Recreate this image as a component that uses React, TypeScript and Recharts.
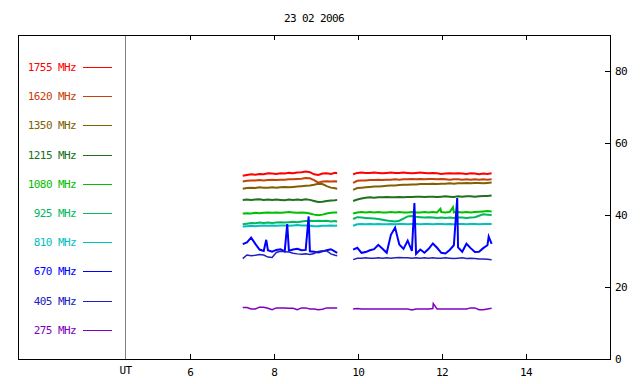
import { LineChart, Line, XAxis, YAxis, Legend } from "recharts";

const MONO = "'DejaVu Sans Mono', monospace";

// UT hours; the 9.7 entry is the data gap between the two recordings
const times = [
  7.25, 7.35, 7.45, 7.55, 7.65, 7.75, 7.85, 7.95, 8.05, 8.15,
  8.25, 8.35, 8.45, 8.55, 8.65, 8.75, 8.85, 8.95, 9.05, 9.15,
  9.25, 9.35, 9.45, 9.5,
  9.7,
  9.88, 9.98, 10.08, 10.18, 10.28, 10.38, 10.48, 10.58, 10.68, 10.78,
  10.88, 10.98, 11.08, 11.18, 11.28, 11.38, 11.48, 11.58, 11.68, 11.78,
  11.88, 11.98, 12.08, 12.18, 12.28, 12.38, 12.48, 12.58, 12.68, 12.78,
  12.88, 12.98, 13.08, 13.18,
];

const channels = ["1755 MHz", "1620 MHz", "1350 MHz", "1215 MHz", "1080 MHz", "925 MHz", "810 MHz", "670 MHz", "405 MHz", "275 MHz"];
const colors = ["#ff0000", "#c8400a", "#806000", "#207020", "#00c000", "#00b860", "#00c0c0", "#0000ff", "#2020c0", "#8000c0"];

const f1755 = [
  50.9, 51.1, 51.3, 51.2, 51.4, 51.3, 51.6, 51.5, 51.4, 51.6,
  51.5, 51.7, 51.6, 51.8, 51.9, 52.1, 51.9, 51.3, 51.1, 51.5,
  51.6, 51.4, 51.7, 51.6,
  null,
  51.3, 51.7, 51.8, 51.7, 51.7, 51.8, 51.7, 51.6, 51.7, 51.8,
  51.7, 51.7, 51.8, 51.7, 51.6, 51.7, 51.8, 51.7, 51.6, 51.7,
  51.6, 51.4, 51.5, 51.6, 51.5, 51.6, 51.5, 51.4, 51.6, 51.5,
  51.3, 51.5, 51.4, 51.6,
];
const f1620 = [
  49.3, 49.5, 49.6, 49.6, 49.7, 49.6, 49.7, 49.8, 49.7, 49.8,
  49.8, 49.9, 49.9, 50.0, 50.1, 50.3, 50.2, 49.7, 49.0, 49.3,
  49.4, 49.3, 49.4, 49.3,
  null,
  48.9, 49.5, 49.6, 49.6, 49.7, 49.7, 49.8, 49.7, 49.8, 49.8,
  49.9, 49.8, 49.9, 49.9, 50.0, 49.9, 50.0, 49.9, 50.0, 50.0,
  49.9, 50.0, 49.9, 49.8, 49.9, 49.9, 49.8, 49.9, 49.8, 49.9,
  49.8, 49.9, 49.8, 49.9,
];
const f1350 = [
  47.3, 47.5, 47.6, 47.5, 47.7, 47.6, 47.6, 47.7, 47.6, 47.7,
  47.8, 47.7, 47.8, 47.9, 48.0, 48.1, 48.2, 48.4, 48.7, 48.6,
  48.0, 47.6, 47.4, 47.3,
  null,
  47.0, 47.5, 47.6, 47.7, 47.8, 47.9, 47.9, 48.0, 48.1, 48.2,
  48.2, 48.3, 48.4, 48.4, 48.5, 48.5, 48.6, 48.6, 48.6, 48.7,
  48.6, 48.7, 48.7, 48.8, 48.7, 48.8, 48.8, 48.9, 48.8, 48.9,
  48.9, 48.8, 48.9, 49.0,
];
const f1215 = [
  44.2, 44.3, 44.2, 44.3, 44.4, 44.2, 44.3, 44.2, 44.3, 44.2,
  44.1, 44.3, 44.2, 44.3, 44.2, 44.4, 44.2, 43.9, 43.6, 43.7,
  43.9, 44.0, 44.1, 44.2,
  null,
  43.9, 44.3, 44.6, 44.8, 44.9, 44.8, 44.9, 44.9, 45.0, 44.9,
  44.9, 45.0, 44.9, 45.0, 45.0, 45.1, 45.1, 45.0, 45.1, 45.1,
  45.0, 45.1, 45.2, 45.1, 45.0, 45.2, 45.1, 45.2, 45.2, 45.1,
  45.2, 45.3, 45.3, 45.4,
];
const f1080 = [
  40.4, 40.5, 40.4, 40.6, 40.5, 40.6, 40.7, 40.6, 40.7, 40.6,
  40.7, 40.8, 40.7, 40.6, 40.7, 40.6, 40.4, 40.1, 39.9, 40.1,
  40.4, 40.6, 40.7, 40.7,
  null,
  40.4, 40.7, 40.8, 40.7, 40.8, 40.7, 40.8, 40.7, 40.7, 40.8,
  40.7, 40.8, 40.7, 40.7, 40.8, 40.7, 40.7, 40.8, 40.7, 40.8,
  40.7, 40.8, 40.7, 40.8, 40.7, 40.8, 40.7, 40.8, 40.7, 40.8,
  40.9, 41.0, 41.1, 41.0,
];
const f925 = [
  37.4, 37.6, 37.8, 37.7, 37.9, 37.8, 37.9, 37.8, 37.9, 38.0,
  37.9, 38.0, 38.1, 38.0, 38.2, 38.3, 38.4, 38.3, 38.4, 38.3,
  38.4, 38.2, 38.3, 38.2,
  null,
  38.9, 39.4, 39.3, 39.2, 39.1, 39.0, 38.9, 38.7, 38.5, 38.3,
  38.2, 38.4, 39.0, 39.6, 39.7, 39.5, 39.4, 39.3, 39.4, 39.3,
  39.2, 39.3, 39.2, 39.3, 39.2, 39.3, 39.3, 39.2, 39.3, 39.4,
  39.8, 40.2, 40.1, 40.0,
];
const f810 = [
  36.8, 36.9, 37.0, 36.9, 37.0, 37.1, 37.0, 37.1, 37.0, 37.1,
  37.1, 37.0, 37.1, 37.2, 37.1, 37.1, 37.0, 36.9, 36.9, 37.0,
  37.0, 37.1, 37.0, 37.1,
  null,
  37.0, 37.4, 37.5, 37.4, 37.5, 37.4, 37.5, 37.4, 37.4, 37.5,
  37.4, 37.5, 37.5, 37.4, 37.5, 37.5, 37.4, 37.5, 37.5, 37.4,
  37.5, 37.5, 37.4, 37.5, 37.4, 37.5, 37.5, 37.4, 37.5, 37.5,
  37.4, 37.5, 37.5, 37.5,
];
const f670 = [
  31.9, 32.4, 33.7, 32.0, 30.4, 30.0, 30.2, 29.8, 30.3, 30.5,
  29.9, 30.1, 30.4, 30.6, 30.2, 30.3, 29.9, 29.8, 29.6, 29.9,
  30.2, 30.5, 29.8, 29.5,
  null,
  30.4, 30.9, 29.5, 29.7, 30.2, 30.5, 31.7, 30.6, 29.5, 34.5,
  36.5, 31.8, 30.6, 32.9, 30.0, 29.2, 30.4, 29.5, 30.6, 32.1,
  30.9, 29.5, 29.3, 30.3, 31.6, 31.0, 29.8, 32.0, 30.8, 29.7,
  29.8, 30.8, 31.6, 32.0,
];
const f405 = [
  27.9, 28.9, 28.7, 28.8, 29.0, 28.9, 28.3, 28.2, 29.6, 29.9,
  29.8, 29.7, 29.4, 29.2, 29.1, 29.2, 29.0, 29.3, 29.9, 30.1,
  30.0, 29.2, 28.8, 28.7,
  null,
  27.6, 28.0, 28.0, 28.1, 28.0, 28.0, 28.1, 28.0, 28.1, 28.0,
  28.1, 28.2, 28.1, 28.1, 28.0, 28.1, 28.0, 28.1, 28.0, 28.1,
  28.0, 28.0, 28.1, 28.0, 27.9, 28.0, 28.1, 27.9, 28.0, 27.9,
  27.8, 27.8, 27.7, 27.6,
];
const f275 = [
  14.3, 14.3, 13.9, 13.9, 14.4, 14.4, 14.1, 13.7, 14.2, 14.2,
  14.2, 14.1, 14.1, 13.7, 14.2, 14.2, 13.9, 13.9, 13.7, 13.8,
  14.2, 14.2, 14.2, 14.2,
  null,
  13.9, 14.0, 13.9, 13.9, 13.9, 13.9, 13.9, 13.9, 13.9, 13.9,
  13.9, 13.9, 13.9, 13.9, 13.6, 13.9, 13.9, 13.9, 13.9, 14.0,
  13.9, 13.9, 13.9, 13.9, 13.9, 13.9, 13.9, 13.9, 14.2, 14.2,
  13.7, 13.7, 13.9, 14.1,
];

// short bursts, [UT, value]
const spikes670 = [[7.81, 33.1], [8.31, 37.5], [8.82, 39.6], [11.34, 43.3], [12.36, 44.7], [13.11, 34.0]];
const spikes1080 = [[11.96, 41.7], [12.26, 42.2]];
const spikes275 = [[11.79, 15.4]];

const xTicks = [4.457, 6, 8, 10, 12, 14];
const yTicks = [0, 20, 40, 60, 80];

function build(values: (number | null)[], spikes: number[][] = []) {
  const rows = times.map((t, i) => ({ t, v: values[i] }));
  for (const [t, v] of spikes) rows.push({ t, v });
  return rows.sort((a, b) => a.t - b.t);
}

const series = [
  build(f1755), build(f1620), build(f1350), build(f1215), build(f1080, spikes1080),
  build(f925), build(f810), build(f670, spikes670), build(f405), build(f275, spikes275),
];

const txt = { fontFamily: MONO, fontSize: 11, letterSpacing: -0.6 };

// tick marks point into the plot; drawn as 1px rects so they stay crisp
function BottomTick({ x, y, payload }: any) {
  if (payload.value < 5) {
    return <text x={x} y={y + 15} textAnchor="middle" fill="#000" stroke="none" style={txt}>UT</text>;
  }
  return (
    <g>
      <rect x={Math.round(x)} y={Math.round(y) - 5} width={1} height={5} fill="#000" />
      <text x={x} y={y + 17} textAnchor="middle" fill="#000" stroke="none" style={txt}>{payload.value}</text>
    </g>
  );
}

function TopTick({ x, y }: any) {
  return <rect x={Math.round(x)} y={Math.round(y)} width={1} height={5} fill="#000" />;
}

function RightTick({ x, y, payload }: any) {
  return (
    <g>
      {payload.value > 0 && <rect x={Math.round(x) - 5} y={Math.round(y)} width={5} height={1} fill="#000" />}
      <text x={x + 5} y={y + 4} textAnchor="start" fill="#000" stroke="none" style={txt}>{payload.value}</text>
    </g>
  );
}

function LegendBox() {
  return (
    <svg width={100} height={290} style={{ display: "block" }}>
      {channels.map((c, i) => {
        const cy = Math.round(29.2 * i) + 6;
        return (
          <g key={c}>
            <text x={56} y={cy + 4} textAnchor="end" fill={colors[i]} style={txt}>{c}</text>
            <rect x={63} y={cy} width={29} height={1} fill={colors[i]} />
          </g>
        );
      })}
    </svg>
  );
}

export default function App() {
  return (
    <div style={{ position: "absolute", left: 0, top: 0, width: 640, height: 384, background: "#fff" }}>
      <div
        style={{
          position: "absolute", left: 0, top: 13, width: 628, textAlign: "center",
          fontFamily: MONO, fontSize: 11, letterSpacing: -0.6, lineHeight: "11px",
        }}
      >
        23 02 2006
      </div>
      <LineChart width={640} height={384} margin={{ top: 5, right: 0, bottom: 0, left: 0.5 }}>
        <XAxis
          xAxisId="b" type="number" dataKey="t" domain={[4.457, 16]} allowDataOverflow
          ticks={xTicks} interval={0} height={25} axisLine={false} tickLine={false}
          tickSize={0} tickMargin={0} tick={<BottomTick />}
        />
        <XAxis
          xAxisId="t" orientation="top" type="number" dataKey="t" domain={[4.457, 16]} allowDataOverflow
          ticks={xTicks.slice(1)} interval={0} height={30} axisLine={false} tickLine={false}
          tickSize={0} tickMargin={0} tick={<TopTick />}
        />
        <YAxis
          yAxisId="l" type="number" domain={[0, 90]} allowDataOverflow width={125}
          axisLine={{ stroke: "#808080" }} tick={false} tickLine={false}
        />
        <YAxis
          yAxisId="r" orientation="right" type="number" domain={[0, 90]} allowDataOverflow
          ticks={yTicks} interval={0} width={30} axisLine={false} tickLine={false}
          tickSize={0} tickMargin={0} tick={<RightTick />}
        />
        <Legend
          layout="vertical" align="center" verticalAlign="middle"
          wrapperStyle={{ left: 20, top: 61, width: 100 }}
          content={() => <LegendBox />}
        />
        {/* invisible copy so the top time axis gets a domain and draws its ticks */}
        <Line
          data={series[9]} dataKey="v" xAxisId="t" yAxisId="l" stroke="none"
          legendType="none" dot={false} activeDot={false} isAnimationActive={false}
        />
        {series.map((rows, i) => (
          <Line
            key={channels[i]}
            data={rows}
            dataKey="v"
            name={channels[i]}
            xAxisId="b"
            yAxisId="r"
            type="linear"
            stroke={colors[i]}
            strokeWidth={i >= 8 ? 1.5 : 2}
            dot={false}
            activeDot={false}
            isAnimationActive={false}
          />
        ))}
      </LineChart>
      <div
        style={{
          position: "absolute", left: 18, top: 35, width: 593, height: 325,
          boxSizing: "border-box", border: "1px solid #000", pointerEvents: "none",
        }}
      />
    </div>
  );
}
